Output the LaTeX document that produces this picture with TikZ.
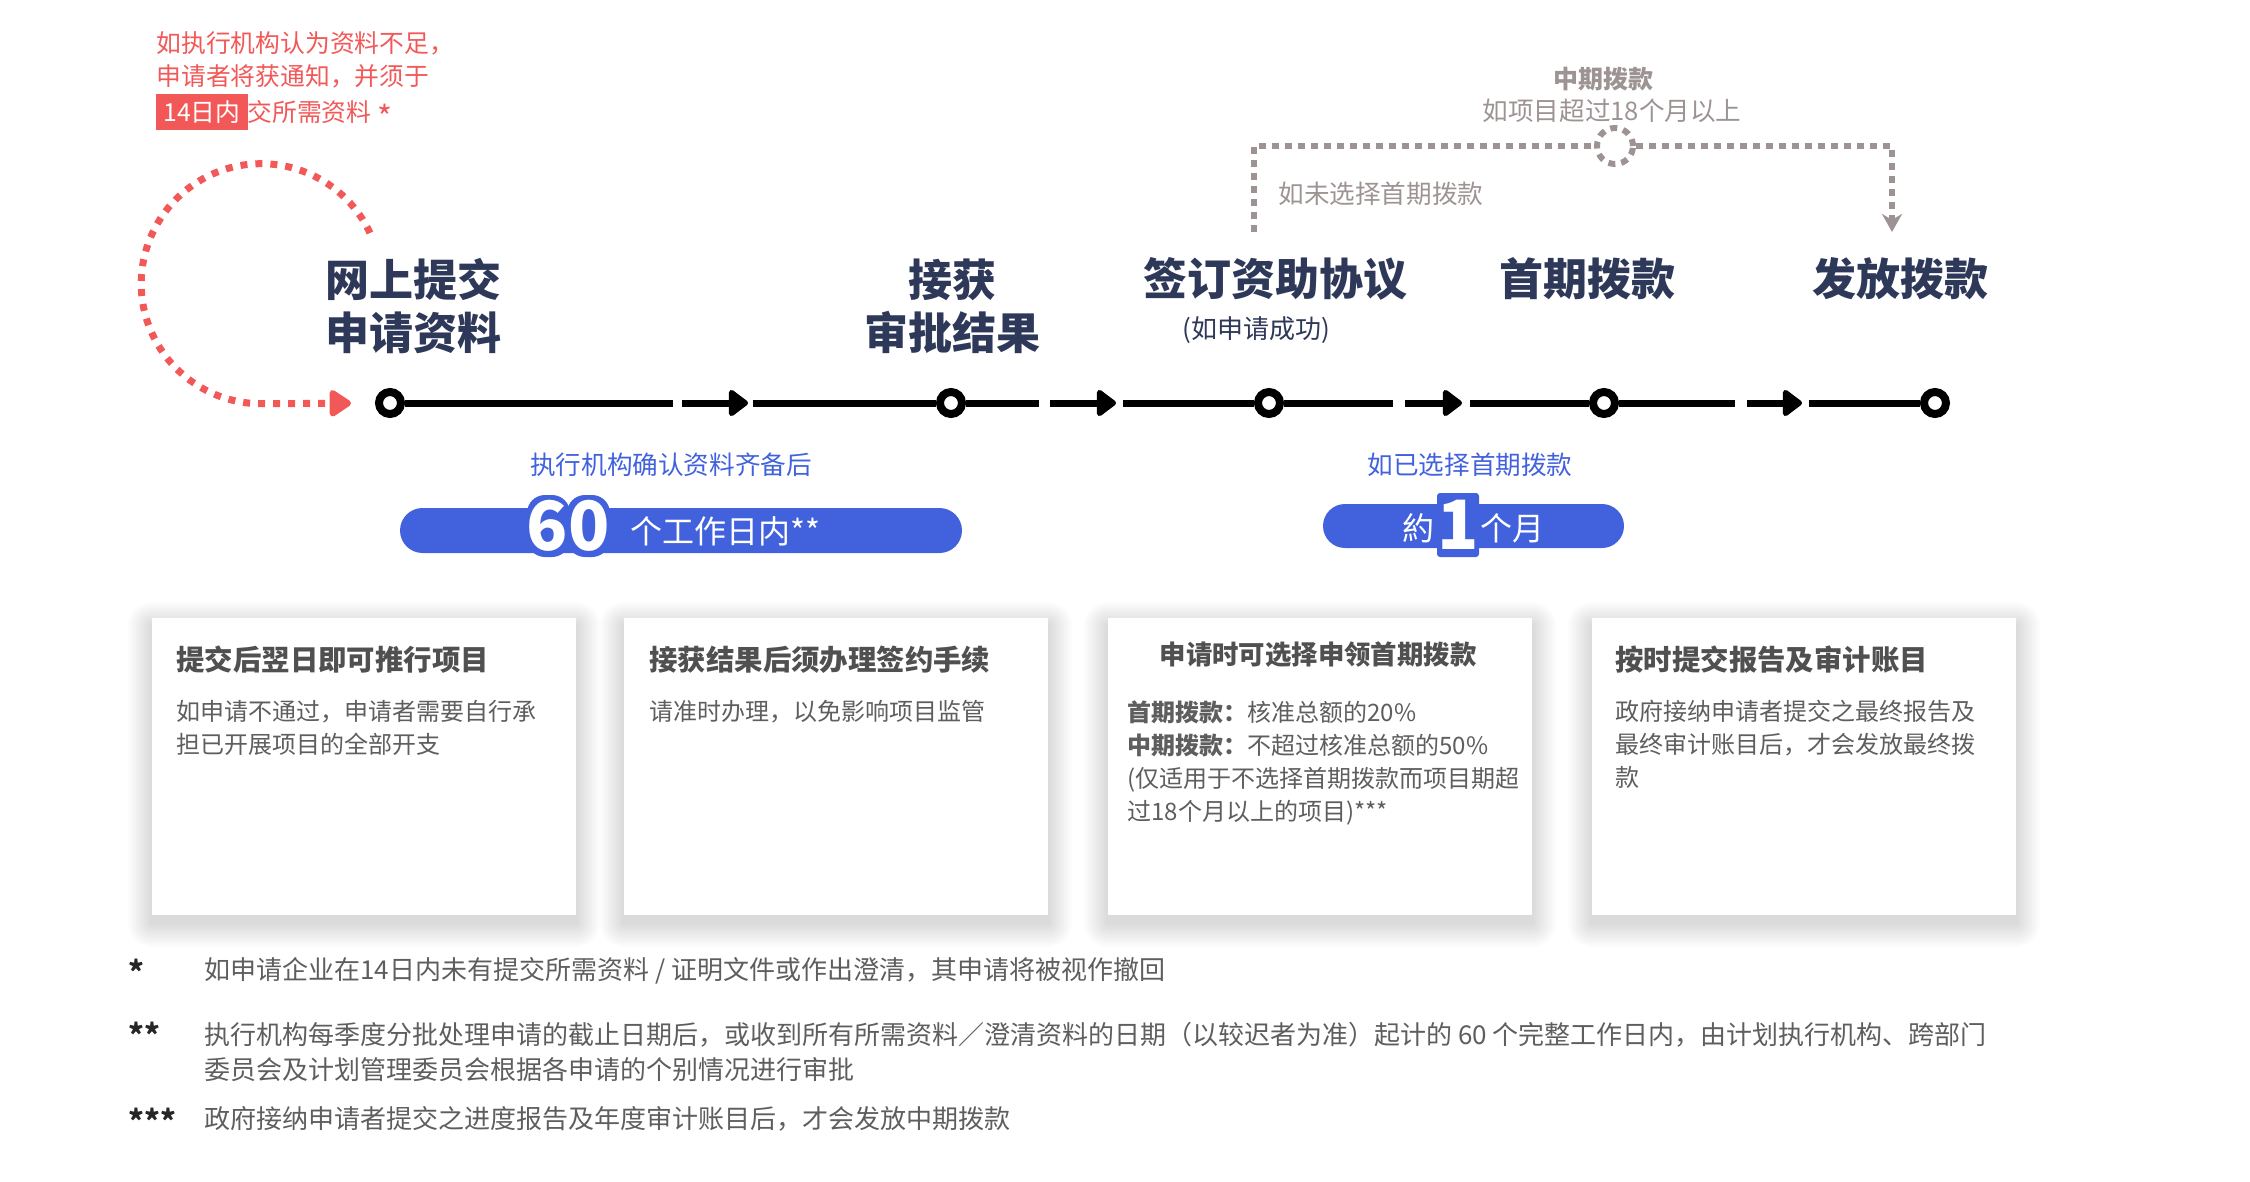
\documentclass[tikz,border=0pt]{standalone}
\usepackage{fontspec}
\setmainfont{Noto Sans CJK SC}
\usetikzlibrary{arrows.meta,shapes.misc}
\definecolor{navy}{RGB}{46,56,89}
\definecolor{alert}{RGB}{242,88,88}
\definecolor{royal}{RGB}{66,98,221}
\definecolor{mute}{RGB}{158,147,147}
\definecolor{headgray}{RGB}{80,80,80}
\definecolor{bodygray}{RGB}{94,94,94}
\setlength{\fboxsep}{3.5pt}

\begin{document}
\begin{tikzpicture}[x=0.5pt, y=-0.5pt,
    stage/.style={circle, draw=black, line width=4pt, fill=white, minimum size=11pt, inner sep=0pt},
    track/.style={draw=black, line width=3.5pt},
    push/.style={draw=black, line width=3.5pt, -{Triangle[length=10.5pt,width=15pt,round]}},
    heading/.style={text=navy, align=center, inner sep=0pt, font=\fontsize{22pt}{26.5pt}\selectfont\bfseries},
    subhead/.style={text=navy, inner sep=0pt, font=\fontsize{13pt}{15pt}\selectfont},
    warn/.style={text=alert, anchor=west, inner sep=0pt, font=\fontsize{12.4pt}{15pt}\selectfont},
    redloop/.style={draw=alert, line width=3.5pt, dash pattern=on 3.5pt off 4pt, -{Triangle[length=12pt,width=15pt,round]}},
    skip/.style={draw=mute, line width=3pt, dash pattern=on 3.5pt off 3pt},
    hub/.style={circle, draw=mute, fill=white, line width=3pt, dash pattern=on 3.5pt off 3pt, minimum size=18pt, inner sep=0pt},
    mutelabel/.style={text=mute, inner sep=0pt, font=\fontsize{12.8pt}{15pt}\selectfont},
    bluelabel/.style={text=royal, inner sep=0pt, font=\fontsize{12.8pt}{15pt}\selectfont},
    pill/.style={rounded rectangle, fill=royal, inner sep=0pt},
    pilltext/.style={text=white, inner sep=0pt, font=\fontsize{16pt}{18pt}\selectfont},
    bignum/.style={text=white, inner sep=0pt, font=\fontsize{34pt}{34pt}\selectfont\bfseries},
    rim/.style={fill=royal},
    cardhead/.style={text=headgray, anchor=west, inner sep=0pt, font=\fontsize{14.2pt}{17pt}\selectfont\bfseries},
    cardbody/.style={text=bodygray, anchor=north west, align=left, inner sep=0pt, font=\fontsize{12pt}{16.5pt}\selectfont},
    starmark/.style={text=black!85, anchor=base west, inner sep=0pt, font=\fontsize{15pt}{17pt}\selectfont\bfseries},
    foot/.style={text=bodygray, align=left, inner sep=0pt, font=\fontsize{13pt}{17.5pt}\selectfont}]
    \useasboundingbox (0,0) rectangle (2250,1182);

    % cards with soft shadow
    \foreach \x in {152,624,1108,1592}{
        \foreach \i in {1,...,12}
            \fill[black, opacity=0.012, rounded corners=\i pt] (\x-2*\i, 618-2*\i+8) rectangle (\x+424+2*\i, 915+2*\i+8);
        \fill[white] (\x,618) rectangle (\x+424,915);
    }

    % red note
    \node[warn](warn1) at (156,43)  {如执行机构认为资料不足，};
    \node[warn](warn2) at (156,76)  {申请者将获通知，并须于};
    \node[warn](warn3) at (156,112) {\colorbox{alert}{\textcolor{white}{14日内}}交所需资料 \raisebox{-4pt}{\fontsize{16pt}{16pt}\selectfont *}};

    % timeline
    \node[stage](c1) at (390,403)  {};
    \node[stage](c2) at (951,403)  {};
    \node[stage](c3) at (1269,403) {};
    \node[stage](c4) at (1604,403) {};
    \node[stage](c5) at (1935,403) {};
    \coordinate (run1) at (673,403);  \coordinate (tail1) at (682,403);  \coordinate (tip1) at (748,403);  \coordinate (back1) at (753,403);
    \coordinate (run2) at (1039,403); \coordinate (tail2) at (1050,403); \coordinate (tip2) at (1116,403); \coordinate (back2) at (1123,403);
    \coordinate (run3) at (1393,403); \coordinate (tail3) at (1405,403); \coordinate (tip3) at (1462,403); \coordinate (back3) at (1470,403);
    \coordinate (run4) at (1735,403); \coordinate (tail4) at (1747,403); \coordinate (tip4) at (1802,403); \coordinate (back4) at (1809,403);
    \path
        (c1)    edge [track] (run1)
        (tail1) edge [push]  (tip1)
        (back1) edge [track] (c2)
        (c2)    edge [track] (run2)
        (tail2) edge [push]  (tip2)
        (back2) edge [track] (c3)
        (c3)    edge [track] (run3)
        (tail3) edge [push]  (tip3)
        (back3) edge [track] (c4)
        (c4)    edge [track] (run4)
        (tail4) edge [push]  (tip4)
        (back4) edge [track] (c5)
        ;

    % loop back for missing papers
    \coordinate (loopstart) at (370,233);
    \draw[redloop, shorten >=12pt] (loopstart) arc[start angle=-25, end angle=-270, radius=120] -- (c1);

    % stage titles
    \node[heading](h1) at (413,306)  {网上提交\\申请资料};
    \node[heading](h2) at (952,306)  {接获\\审批结果};
    \node[heading](h3) at (1275,279) {签订资助协议};
    \node[subhead](h3s) at (1256,330) {(如申请成功)};
    \node[heading](h4) at (1587,279) {首期拨款};
    \node[heading](h5) at (1900,279) {发放拨款};

    % interim payment route
    \node[hub](hub) at (1615,146) {};
    \coordinate (optout) at (1254,232);
    \coordinate (payin) at (1892,232);
    \draw[skip] (optout) |- (hub);
    \draw[skip, -{Stealth[length=9pt,width=10pt]}] (hub) -| (payin);
    \node[mutelabel, font=\fontsize{12.5pt}{15pt}\selectfont\bfseries](midpay) at (1603,79) {中期拨款};
    \node[mutelabel](midcond) at (1612,111) {如项目超过18个月以上};
    \node[mutelabel, anchor=west](nofirst) at (1278,194) {如未选择首期拨款};

    % durations
    \node[bluelabel](ready) at (671,465) {执行机构确认资料齐备后};
    \node[pill, minimum width=281pt, minimum height=22.5pt](pillA) at (681,530.5) {};
    \fill[rim, rounded corners=9pt] (527,495) rectangle (570,557);
    \fill[rim, rounded corners=9pt] (567,495) rectangle (610,557);
    \node[bignum](sixty) at (568,526) {60};
    \node[pilltext, anchor=west](days) at (630,531) {个工作日内**};

    \node[bluelabel](picked) at (1470,465) {如已选择首期拨款};
    \node[pill, minimum width=150.5pt, minimum height=22pt](pillB) at (1473.5,526) {};
    \fill[rim, rounded corners=1.5pt] (1437,493) rectangle (1479,557);
    \node[pilltext](about) at (1418,528) {約};
    \node[bignum](one) at (1458,525) {1};
    \node[pilltext](month) at (1512,528) {个月};

    % card texts
    \node[cardhead](t1) at (176,660) {提交后翌日即可推行项目};
    \node[cardbody](b1) at (176,700) {如申请不通过，申请者需要自行承\\担已开展项目的全部开支};
    \node[cardhead](t2) at (649,660) {接获结果后须办理签约手续};
    \node[cardbody](b2) at (649,700) {请准时办理，以免影响项目监管};
    \node[cardhead, anchor=center, font=\fontsize{13.2pt}{16pt}\selectfont\bfseries](t3) at (1318,655) {申请时可选择申领首期拨款};
    \node[cardbody](b3) at (1127,700) {{\bfseries 首期拨款：}核准总额的20\%\\{\bfseries 中期拨款：}不超过核准总额的50\%\\(仅适用于不选择首期拨款而项目期超\\过18个月以上的项目)***};
    \node[cardhead](t4) at (1615,660) {按时提交报告及审计账目};
    \node[cardbody](b4) at (1615,700) {政府接纳申请者提交之最终报告及\\最终审计账目后，才会发放最终拨\\款};

    % footnotes
    \node[starmark](mark1) at (128,983)  {*};
    \node[starmark](mark2) at (128,1046) {**};
    \node[starmark](mark3) at (128,1132) {***};
    \node[foot, anchor=west](foot1) at (204,971) {如申请企业在14日内未有提交所需资料 / 证明文件或作出澄清，其申请将被视作撤回};
    \node[foot, anchor=north west](foot2) at (204,1022) {执行机构每季度分批处理申请的截止日期后，或收到所有所需资料／澄清资料的日期（以较迟者为准）起计的 60 个完整工作日内，由计划执行机构、跨部门\\委员会及计划管理委员会根据各申请的个别情况进行审批};
    \node[foot, anchor=west](foot3) at (204,1119) {政府接纳申请者提交之进度报告及年度审计账目后，才会发放中期拨款};
\end{tikzpicture}
\end{document}
